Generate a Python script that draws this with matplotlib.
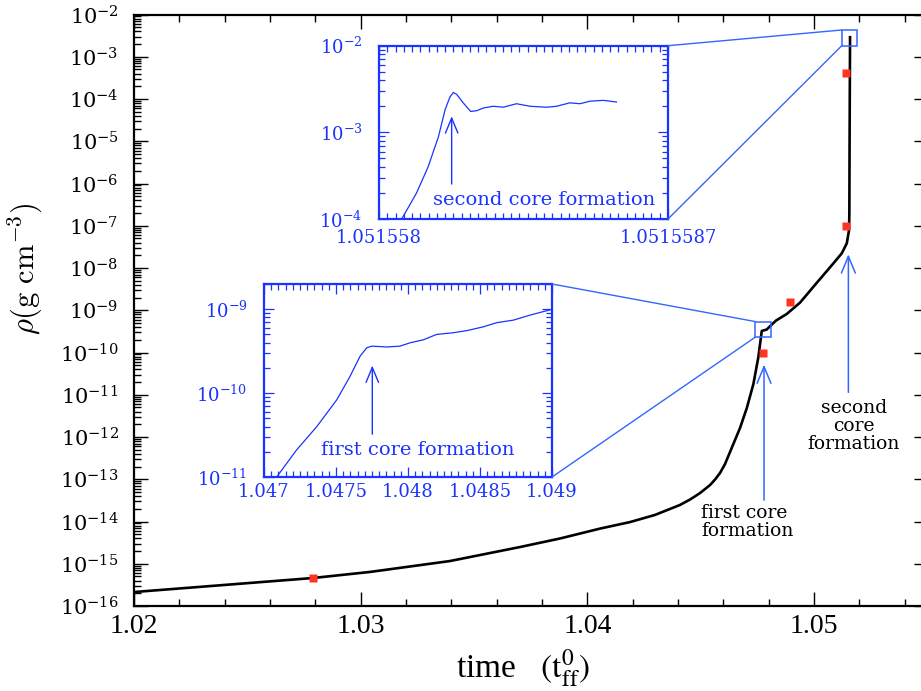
import matplotlib
matplotlib.use("Agg")
import matplotlib.pyplot as plt
from matplotlib.patches import Rectangle, ConnectionPatch
from matplotlib.ticker import LogLocator, MultipleLocator, NullFormatter

# main density history
time_main = [1.02000, 1.02790, 1.03041, 1.03394, 1.03703, 1.03879, 1.04056, 1.04188,
             1.04298, 1.04408, 1.04453, 1.04497, 1.04541, 1.04563, 1.04585, 1.04607,
             1.04629, 1.04673, 1.04703, 1.04732, 1.04754, 1.04769, 1.04791, 1.04809,
             1.04832, 1.04879, 1.04938, 1.04997, 1.05041, 1.05085, 1.05122, 1.05144,
             1.051540, 1.051553, 1.051562, 1.051571, 1.051584]
rho_main = [2.14e-16, 4.6e-16, 6.4e-16, 1.16e-15, 2.49e-15, 3.96e-15, 6.8e-15, 9.7e-15,
            1.43e-14, 2.46e-14, 3.32e-14, 4.73e-14, 7.31e-14, 9.86e-14, 1.41e-13, 2.30e-13,
            4.42e-13, 1.63e-12, 4.85e-12, 1.79e-11, 7.8e-11, 3.24e-10, 3.5e-10, 4.37e-10,
            5.71e-10, 8.15e-10, 1.52e-9, 3.61e-9, 6.82e-9, 1.29e-8, 2.23e-8, 3.84e-8,
            7.94e-8, 1.97e-7, 6.2e-6, 9.5e-5, 2.9e-3]

# red squares
time_snap = [1.02790, 1.04773, 1.04894, 1.05139, 1.05139]
rho_snap = [4.6e-16, 1.0e-10, 1.6e-9, 1.0e-7, 4.2e-4]

# first core zoom
time_first = [1.047088, 1.047227, 1.047366, 1.047505, 1.047597, 1.047667, 1.047713,
              1.047748, 1.047806, 1.047852, 1.047944, 1.048014, 1.048106, 1.048199,
              1.048315, 1.048408, 1.048523, 1.048616, 1.048731, 1.048847, 1.049002]
rho_first = [1.0e-11, 2.11e-11, 3.98e-11, 8.3e-11, 1.58e-10, 2.75e-10, 3.47e-10,
             3.63e-10, 3.59e-10, 3.55e-10, 3.63e-10, 3.98e-10, 4.32e-10, 5.01e-10,
             5.25e-10, 5.56e-10, 6.17e-10, 6.92e-10, 7.41e-10, 8.51e-10, 1.0e-9]

# second core zoom
time_second = [1.051558055, 1.051558091, 1.051558119, 1.051558144, 1.051558160,
               1.051558172, 1.051558180, 1.051558188, 1.051558204, 1.051558222,
               1.051558237, 1.051558253, 1.051558277, 1.051558301, 1.051558333,
               1.051558366, 1.051558406, 1.051558430, 1.051558462, 1.051558487,
               1.051558511, 1.051558543, 1.051558559, 1.051558575]
rho_second = [1.0e-4, 2.0e-4, 4.0e-4, 8.9e-4, 1.82e-3, 2.57e-3, 2.88e-3, 2.75e-3,
              2.19e-3, 1.74e-3, 1.78e-3, 1.91e-3, 2.0e-3, 1.95e-3, 2.14e-3, 2.0e-3,
              1.95e-3, 2.0e-3, 2.19e-3, 2.14e-3, 2.29e-3, 2.34e-3, 2.29e-3, 2.24e-3]

main_xticks = [1.02, 1.03, 1.04, 1.05]
main_xlabels = ["1.02", "1.03", "1.04", "1.05"]
main_yexp = list(range(-16, -1))
first_xticks = [1.047, 1.0475, 1.048, 1.0485, 1.049]
first_xlabels = ["1.047", "1.0475", "1.048", "1.0485", "1.049"]
first_yexp = [-11, -10, -9]
second_xticks = [1.051558, 1.0515587]
second_xlabels = ["1.051558", "1.0515587"]
second_yexp = [-4, -3, -2]

BLUE = "#1a33ff"
LBLUE = "#3366ff"
ARROW = "->,head_length=0.6,head_width=0.25"

fig = plt.figure(figsize=(9.21, 6.91), dpi=100)
ax = fig.add_axes([134 / 921, 1 - 606 / 691, 793.5 / 921, 591.5 / 691])

ax.plot(time_main, rho_main, color="black", lw=1.9, zorder=3)
ax.plot(time_snap, rho_snap, ls="none", marker="s", ms=5.8, color="#ff3322",
        mec="none", zorder=4)
ax.set_yscale("log")
ax.set_xlim(1.02, 1.055)
ax.set_ylim(1e-16, 1e-2)

ax.set_xticks(main_xticks)
ax.set_xticklabels(main_xlabels, family="Liberation Serif", fontsize=20)
ax.xaxis.set_minor_locator(MultipleLocator(0.002))
ax.set_yticks([10.0 ** e for e in main_yexp])
ax.set_yticklabels([rf"$10^{{{e}}}$" for e in main_yexp], fontsize=15,
                   math_fontfamily="dejavuserif")
ax.yaxis.set_minor_locator(LogLocator(base=10, subs=range(2, 10), numticks=100))
ax.yaxis.set_minor_formatter(NullFormatter())
ax.tick_params(which="both", direction="in", top=True, right=True, width=1.0)
ax.tick_params(which="major", length=10)
ax.tick_params(which="minor", length=5)
ax.tick_params(axis="x", which="major", pad=6)
ax.tick_params(axis="y", which="major", pad=11)
for s in ax.spines.values():
    s.set_linewidth(1.6)

ax.set_xlabel(r"time   $({\rm t}_{\rm ff}^{0})$", fontsize=24, math_fontfamily="stix",
              family="Liberation Serif")
ax.xaxis.set_label_coords(0.49, -0.07)
ax.set_ylabel(r"$\rho({\rm g\ cm^{-3}})$", fontsize=22, math_fontfamily="cm")
ax.yaxis.set_label_coords(-0.112, 0.57)

# annotations on main panel
ax.annotate("", xy=(1.04779, 6.0e-11), xytext=(1.04779, 2.75e-14),
            arrowprops=dict(arrowstyle=ARROW, color=LBLUE, lw=1.1, mutation_scale=20))
ax.text(1.04503, 2.6e-14, "first core\nformation", fontsize=13.5, family="DejaVu Serif",
        ha="left", va="top", linespacing=1.0)
ax.annotate("", xy=(1.05151, 2.45e-8), xytext=(1.05151, 9.8e-12),
            arrowprops=dict(arrowstyle=ARROW, color=LBLUE, lw=1.1, mutation_scale=20))
ax.text(1.05175, 8.0e-12, "second\ncore\nformation", fontsize=13.5,
        family="DejaVu Serif", ha="center", va="top", linespacing=1.0)

# small boxes marking zoomed regions
box1 = Rectangle((1.04740, 2.3e-10), 0.00068, 5.4e-10 - 2.3e-10, fill=False,
                 ec=LBLUE, lw=1.1, zorder=5)
box2 = Rectangle((1.05122, 1.83e-3), 0.00069, 4.3e-3 - 1.83e-3, fill=False,
                 ec=LBLUE, lw=1.1, zorder=5)
ax.add_patch(box1)
ax.add_patch(box2)


def style_inset(a, xt, xl, yexp, xpad):
    a.set_yscale("log")
    a.set_xticks(xt)
    a.set_xticklabels(xl, family="DejaVu Serif", fontsize=13, color=BLUE)
    a.set_yticks([10.0 ** e for e in yexp])
    a.set_yticklabels([rf"$10^{{{e}}}$" for e in yexp], fontsize=13, color=BLUE,
                      math_fontfamily="dejavuserif")
    a.yaxis.set_minor_locator(LogLocator(base=10, subs=range(2, 10), numticks=100))
    a.yaxis.set_minor_formatter(NullFormatter())
    a.tick_params(which="both", direction="in", top=True, right=True, color=BLUE,
                  width=0.9)
    a.tick_params(which="major", length=7)
    a.tick_params(which="minor", length=4)
    a.tick_params(axis="x", which="major", pad=xpad)
    a.tick_params(axis="y", which="major", pad=12)
    for s in a.spines.values():
        s.set_color(BLUE)
        s.set_linewidth(1.6)


# second core inset (top)
ax2 = fig.add_axes([379 / 921, 1 - 219 / 691, 289 / 921, 173.3 / 691])
ax2.plot(time_second, rho_second, color=BLUE, lw=0.9)
ax2.set_xlim(1.051558, 1.0515587)
ax2.set_ylim(1e-4, 1e-2)
style_inset(ax2, second_xticks, second_xlabels, second_yexp, 7)
ax2.xaxis.set_minor_locator(MultipleLocator(2e-8))
ax2.annotate("", xy=(1.051558176, 1.65e-3), xytext=(1.051558176, 2.35e-4),
             arrowprops=dict(arrowstyle=ARROW, color=BLUE, lw=1.0, mutation_scale=18))
ax2.text(1.0515584, 1.65e-4, "second core formation", color=BLUE, fontsize=14,
         family="DejaVu Serif", ha="center", va="center")

# first core inset (bottom)
ax1 = fig.add_axes([264 / 921, 1 - 477 / 691, 288 / 921, 193 / 691])
ax1.plot(time_first, rho_first, color=BLUE, lw=0.9)
ax1.set_xlim(1.047, 1.049)
ax1.set_ylim(1e-11, 2e-9)
style_inset(ax1, first_xticks, first_xlabels, first_yexp, 4)
ax1.xaxis.set_minor_locator(MultipleLocator(5e-5))
ax1.annotate("", xy=(1.047752, 2.3e-10), xytext=(1.047752, 3.0e-11),
             arrowprops=dict(arrowstyle=ARROW, color=BLUE, lw=1.0, mutation_scale=18))
ax1.text(1.048065, 2.1e-11, "first core formation", color=BLUE, fontsize=14,
         family="DejaVu Serif", ha="center", va="center")

# connector lines between insets and boxes
links = [
    (ax2, (1, 1), (1.05122, 4.3e-3)),
    (ax2, (1, 0), (1.05122, 1.83e-3)),
    (ax1, (1, 1), (1.04740, 5.4e-10)),
    (ax1, (1, 0), (1.04740, 2.3e-10)),
]
for a, pa, pb in links:
    con = ConnectionPatch(xyA=pa, coordsA=a.transAxes, xyB=pb, coordsB=ax.transData,
                          color=LBLUE, lw=1.0)
    fig.add_artist(con)

fig.savefig("out.png", dpi=100)
